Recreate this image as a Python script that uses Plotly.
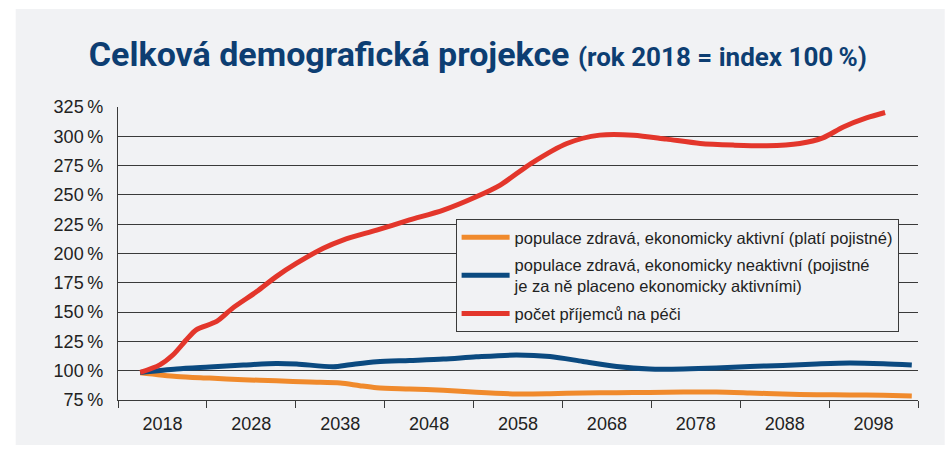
import plotly.graph_objects as go

# roky a hodnoty (index, rok 2018 = 100 %)
years_active = [2015.5, 2019.6, 2023.3, 2027.1, 2030.8, 2034.6, 2038.0, 2040.2, 2042.1,
                2045.8, 2049.6, 2053.3, 2057.8, 2061.6, 2065.3, 2069.1, 2072.8, 2076.6,
                2080.3, 2084.1, 2087.8, 2091.6, 2095.3, 2099.1, 2102.3]
active = [98.3, 95.1, 93.7, 92.3, 91.4, 90.3, 89.5, 87.2, 85.5,
          84.4, 83.3, 81.6, 80.2, 80.4, 81.0, 81.2, 81.5, 81.8,
          81.8, 81.0, 80.1, 79.5, 79.3, 79.0, 78.4]

years_inactive = [2015.5, 2019.6, 2023.3, 2027.1, 2030.8, 2033.1, 2037.2, 2039.1, 2042.1,
                  2045.8, 2049.6, 2053.3, 2057.8, 2061.6, 2065.3, 2069.1, 2072.8, 2076.6,
                  2080.3, 2084.1, 2087.8, 2091.6, 2095.3, 2099.1, 2102.3]
inactive = [98.5, 101.4, 103.1, 104.8, 106.2, 105.7, 103.4, 105.1, 107.6,
            108.7, 109.9, 111.8, 113.4, 112.1, 107.9, 103.6, 101.4, 101.4,
            102.2, 103.6, 104.5, 105.7, 106.5, 105.9, 104.8]

years_care = [2015.5, 2017.7, 2019.2, 2020.7, 2021.8, 2024.1, 2025.9, 2028.6, 2030.8,
              2033.1, 2036.1, 2038.3, 2042.1, 2045.8, 2049.6, 2053.3, 2056.0, 2059.5,
              2063.5, 2067.2, 2071.0, 2074.7, 2078.5, 2082.2, 2086.0, 2089.7, 2092.3,
              2094.6, 2097.2, 2099.3]
care = [98.5, 105.0, 113.6, 126.4, 134.9, 142.0, 153.4, 167.5, 180.3,
        191.7, 204.5, 211.5, 220.0, 228.6, 237.0, 248.4, 258.4, 277.0,
        293.9, 301.0, 301.0, 297.6, 293.9, 292.5, 291.9, 293.9, 298.7,
        308.0, 315.7, 320.3]

tick_years = [2018, 2028, 2038, 2048, 2058, 2068, 2078, 2088, 2098]
sep_years = [2013, 2023, 2033, 2043, 2053, 2063, 2073, 2083, 2093, 2103]
y_ticks = [75, 100, 125, 150, 175, 200, 225, 250, 275, 300, 325]

names = ["populace zdravá, ekonomicky aktivní (platí pojistné)",
         "populace zdravá, ekonomicky neaktivní (pojistné<br>je za ně placeno ekonomicky aktivními)",
         "počet příjemců na péči"]
colors = ["#f08a2c", "#0b4a80", "#e3362b"]

panel = "#f1f2f4"
grid = "#3a3a3a"

fig = go.Figure()
for i, (xs, ys) in enumerate([(years_active, active), (years_inactive, inactive), (years_care, care)]):
    fig.add_trace(go.Scatter(x=xs, y=ys, mode="lines", name=names[i], legendgroup=str(i),
                             line=dict(color=colors[i], width=5, shape="spline", smoothing=0.8)))

fig.add_shape(type="rect", xref="paper", yref="paper", layer="below",
              x0=-0.1279, x1=1.0334, y0=-0.1536, y1=1.3345,
              fillcolor=panel, line_width=0)

fig.update_layout(
    width=952, height=459,
    margin=dict(l=118, r=34, t=107, b=59),
    paper_bgcolor="white", plot_bgcolor=panel,
    font=dict(family="Liberation Sans, Arial, sans-serif", color="#222"),
    title=dict(text="<b>Celková demografická projekce</b> "
                    "<span style='font-size:26px'><b>(rok 2018 = index 100\u2009%)</b></span>",
               x=0.502, xanchor="center", y=1 - 54 / 459, yanchor="middle",
               font=dict(family="Roboto, sans-serif", size=34, color="#0d3e72")),
    legend=dict(x=0.422, y=0.618, xanchor="left", yanchor="top",
                bgcolor=panel, bordercolor="#3a3a3a", borderwidth=1,
                font=dict(size=16.5, color="#222"), itemwidth=48, tracegroupgap=3),
    xaxis=dict(range=[2013, 2103], tickvals=tick_years, ticktext=[str(y) for y in tick_years],
               ticks="outside", ticklen=7, tickcolor="rgba(0,0,0,0)",
               minor=dict(tickvals=sep_years, ticks="outside", ticklen=7, tickcolor=grid, tickwidth=1.3),
               showgrid=False, showline=True, linecolor=grid, linewidth=1.3,
               tickfont=dict(size=18), zeroline=False),
    yaxis=dict(range=[75, 325], tickvals=y_ticks, ticktext=[f"{v}\u2009%" for v in y_ticks],
               showgrid=True, gridcolor=grid, gridwidth=1, showline=True, linecolor=grid,
               linewidth=1.3, ticks="", ticklabelstandoff=10, tickfont=dict(size=18),
               zeroline=False),
)

fig.write_html("out.html", config={"displayModeBar": False},
               post_script="document.body.style.margin='0';")
